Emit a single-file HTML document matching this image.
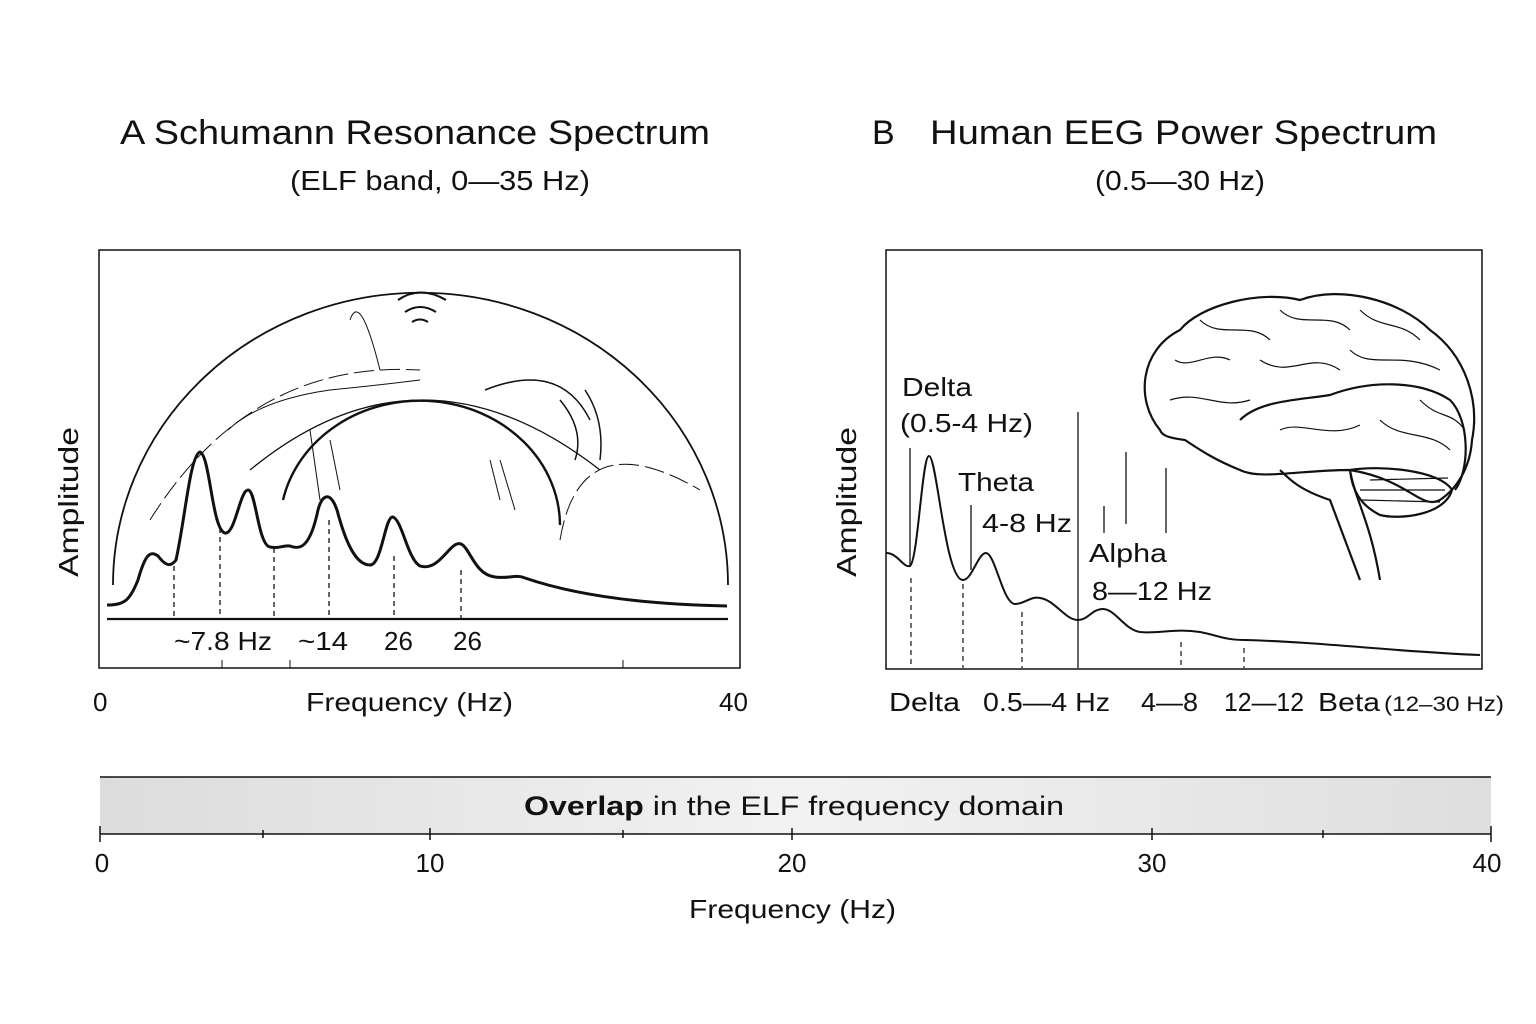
<!DOCTYPE html>
<html><head><meta charset="utf-8"><style>
body{margin:0;background:#fff;}
svg{display:block;font-family:"Liberation Sans",sans-serif;}
</style></head><body>
<svg width="1536" height="1024" viewBox="0 0 1536 1024">
<defs><linearGradient id="g" x1="0" x2="1"><stop offset="0" stop-color="#dcdcdc"/><stop offset="0.5" stop-color="#f2f2f2"/><stop offset="1" stop-color="#dedede"/></linearGradient></defs>
<g fill="#111" font-size="34" lengthAdjust="spacingAndGlyphs">
<text x="120" y="144" textLength="590" lengthAdjust="spacingAndGlyphs">A Schumann Resonance Spectrum</text>
<text x="872" y="144">B</text>
<text x="930" y="144" textLength="507" lengthAdjust="spacingAndGlyphs">Human EEG Power Spectrum</text>
</g>
<g fill="#111" font-size="28">
<text x="290" y="190" textLength="300" lengthAdjust="spacingAndGlyphs">(ELF band, 0—35 Hz)</text>
<text x="1095" y="190" textLength="170" lengthAdjust="spacingAndGlyphs">(0.5—30 Hz)</text>
</g>
<!-- Panel A -->
<g stroke="#111" fill="none">
<rect x="99" y="250" width="641" height="418" stroke-width="1.5"/>
<line x1="222" y1="668" x2="222" y2="660"/><line x1="290" y1="668" x2="290" y2="660"/><line x1="623" y1="668" x2="623" y2="660"/>
<path d="M113,585 A305,290 0 0 1 728,585" stroke-width="1.8"/>
<path d="M283,500 A140,125 0 0 1 560,525" stroke-width="2.4"/>
<path d="M250,470 Q420,330 600,470" stroke-width="1.3"/>
<path d="M150,520 Q250,360 420,370" stroke-width="1" stroke-dasharray="20 6"/>
<path d="M560,540 Q580,420 700,490" stroke-width="1" stroke-dasharray="20 6"/>
<path d="M350,320 Q360,290 380,370" stroke-width="1"/>
<path d="M228,430 Q260,400 330,390 Q380,385 420,380" stroke-width="1"/>
<path d="M398,300 Q420,285 446,300 M405,312 Q420,302 436,312 M412,322 Q420,317 428,322" stroke-width="2"/>
<path d="M485,390 Q560,360 590,420 M560,400 Q585,430 575,460 M585,390 Q605,420 600,460" stroke-width="1.5"/>
<path d="M310,430 L320,500 M330,440 L340,490 M490,460 L500,500 M500,460 L515,510" stroke-width="1"/>
<line x1="107" y1="619" x2="728" y2="619" stroke-width="2.2"/>
<path d="M107,605 C125,605 130,600 138,580 C145,555 150,550 158,556 C165,565 170,568 176,560 C185,520 190,455 200,452 C210,455 212,530 225,533 C235,535 240,490 248,490 C256,490 258,545 270,547 C280,549 282,545 290,546 C300,550 310,548 318,510 C322,495 330,490 337,510 C345,540 355,565 370,565 C382,565 385,515 393,517 C402,520 408,560 420,566 C440,572 450,540 461,544 C470,548 475,575 495,577 C510,579 515,574 525,578 C560,590 620,604 727,606" stroke-width="3"/>
<g stroke-dasharray="5 4" stroke-width="1.3"><line x1="174" y1="566" x2="174" y2="619"/><line x1="220" y1="528" x2="220" y2="619"/><line x1="274" y1="548" x2="274" y2="619"/><line x1="329" y1="520" x2="329" y2="619"/><line x1="394" y1="556" x2="394" y2="619"/><line x1="461" y1="570" x2="461" y2="619"/></g>
</g>
<g fill="#111" font-size="26">
<text x="174" y="650" textLength="98" lengthAdjust="spacingAndGlyphs">~7.8 Hz</text><text x="298" y="650" textLength="50" lengthAdjust="spacingAndGlyphs">~14</text><text x="384" y="650">26</text><text x="453" y="650">26</text>
<text x="93" y="711">0</text><text x="719" y="711">40</text><text x="306" y="711" textLength="207" lengthAdjust="spacingAndGlyphs">Frequency (Hz)</text>
<text transform="translate(78,577) rotate(-90)" font-size="28" textLength="150" lengthAdjust="spacingAndGlyphs">Amplitude</text>
<text transform="translate(856,577) rotate(-90)" font-size="28" textLength="150" lengthAdjust="spacingAndGlyphs">Amplitude</text>
</g>
<!-- Panel B -->
<g stroke="#111" fill="none">
<rect x="886" y="250" width="596" height="419" stroke-width="1.5"/>
<path d="M886,553 C898,553 903,568 910,566 C918,560 922,456 929,456 C937,456 945,580 963,580 C972,580 978,553 986,553 C995,553 1003,604 1015,604 C1025,604 1030,596 1040,598 C1055,600 1065,620 1078,620 C1088,620 1092,609 1103,609 C1115,609 1125,630 1140,632 C1160,634 1175,628 1200,632 C1220,636 1225,640 1245,640 C1320,642 1400,652 1480,655" stroke-width="2"/>
<g stroke-width="1.3"><line x1="910" y1="448" x2="910" y2="566"/><line x1="971" y1="505" x2="971" y2="570"/><line x1="1078" y1="412" x2="1078" y2="668"/><line x1="1104" y1="506" x2="1104" y2="533"/><line x1="1126" y1="452" x2="1126" y2="524"/><line x1="1166" y1="468" x2="1166" y2="533"/></g>
<g stroke-dasharray="5 4" stroke-width="1.2"><line x1="911" y1="578" x2="911" y2="668"/><line x1="963" y1="584" x2="963" y2="668"/><line x1="1022" y1="612" x2="1022" y2="668"/><line x1="1181" y1="642" x2="1181" y2="668"/><line x1="1244" y1="648" x2="1244" y2="668"/></g>
<g stroke-width="2.2">
<path d="M1160,430 C1135,400 1140,350 1180,330 C1200,305 1260,290 1300,300 C1340,285 1400,300 1430,330 C1465,355 1480,400 1472,440 C1470,470 1455,490 1440,500 C1420,510 1410,480 1350,470 C1300,470 1260,480 1240,470 C1215,460 1200,450 1185,440 C1170,438 1162,436 1160,430 Z"/>
<path d="M1240,420 C1260,400 1300,400 1330,395 C1370,380 1420,380 1450,400 C1470,420 1470,470 1455,490"/>
<path d="M1280,470 C1290,480 1300,490 1330,500 L1360,580 M1350,470 C1355,500 1370,520 1380,580"/>
<path d="M1350,470 C1380,465 1440,470 1452,490 C1445,515 1400,520 1380,515 C1360,505 1352,490 1350,470"/>
</g>
<g stroke-width="1.2">
<path d="M1175,360 C1190,370 1210,350 1230,360 M1200,320 C1220,340 1250,320 1270,340 M1280,310 C1300,330 1330,310 1350,330 M1360,310 C1380,330 1400,320 1420,340 M1170,400 C1200,390 1220,410 1250,400 M1260,360 C1290,380 1310,350 1340,370 M1350,350 C1370,370 1400,350 1440,370 M1420,400 C1440,420 1450,410 1465,430 M1280,430 C1300,420 1330,440 1360,425 M1380,420 C1400,440 1430,430 1450,450 M1360,490 L1445,490 M1362,500 L1440,502 M1370,480 L1448,478"/>
</g>
</g>
<g fill="#111" font-size="26">
<text x="902" y="396" textLength="70" lengthAdjust="spacingAndGlyphs">Delta</text><text x="900" y="432" textLength="133" lengthAdjust="spacingAndGlyphs">(0.5-4 Hz)</text>
<text x="958" y="491" textLength="76" lengthAdjust="spacingAndGlyphs">Theta</text><text x="982" y="532" textLength="90" lengthAdjust="spacingAndGlyphs">4-8 Hz</text>
<text x="1089" y="562" textLength="78" lengthAdjust="spacingAndGlyphs">Alpha</text><text x="1092" y="600" textLength="120" lengthAdjust="spacingAndGlyphs">8—12 Hz</text>
<text x="889" y="711" textLength="71" lengthAdjust="spacingAndGlyphs">Delta</text><text x="983" y="711" textLength="127" lengthAdjust="spacingAndGlyphs">0.5—4 Hz</text><text x="1141" y="711" textLength="57" lengthAdjust="spacingAndGlyphs">4—8</text><text x="1224" y="711" textLength="80" lengthAdjust="spacingAndGlyphs">12—12</text><text x="1318" y="711" textLength="62" lengthAdjust="spacingAndGlyphs">Beta</text><text x="1384" y="711" font-size="21" textLength="120" lengthAdjust="spacingAndGlyphs">(12–30 Hz)</text>
</g>
<rect x="100" y="777" width="1391" height="57" fill="url(#g)"/>
<line x1="100" y1="777" x2="1491" y2="777" stroke="#111" stroke-width="1.5"/>
<line x1="100" y1="834" x2="1491" y2="834" stroke="#111" stroke-width="1.5"/>
<g stroke="#111" stroke-width="1.5"><line x1="100" y1="826" x2="100" y2="842"/><line x1="1491" y1="826" x2="1491" y2="842"/><line x1="430" y1="828" x2="430" y2="840"/><line x1="792" y1="828" x2="792" y2="840"/><line x1="1152" y1="828" x2="1152" y2="840"/><line x1="263" y1="830" x2="263" y2="838"/><line x1="623" y1="830" x2="623" y2="838"/><line x1="1323" y1="830" x2="1323" y2="838"/></g>
<text x="524" y="815" font-size="27" fill="#111" textLength="540" lengthAdjust="spacingAndGlyphs"><tspan font-weight="bold">Overlap</tspan> in the ELF frequency domain</text>
<g fill="#111" font-size="26" text-anchor="middle">
<text x="102" y="872">0</text><text x="430" y="872">10</text><text x="792" y="872">20</text><text x="1152" y="872">30</text><text x="1487" y="872">40</text>
</g>
<text x="689" y="918" font-size="26" fill="#111" textLength="207" lengthAdjust="spacingAndGlyphs">Frequency (Hz)</text>
</svg>
</body></html>
